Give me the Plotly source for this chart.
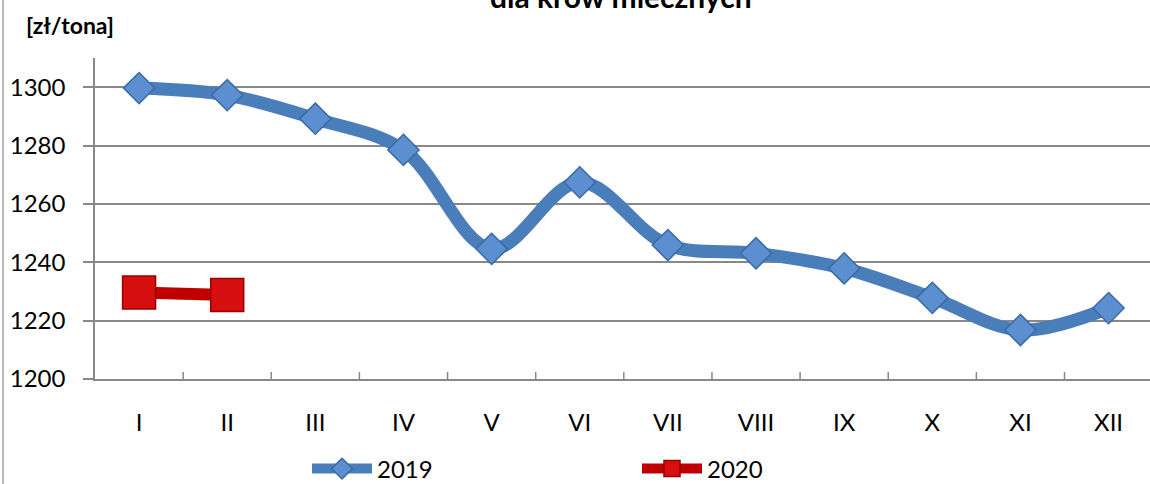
import plotly.graph_objects as go

months = ["I", "II", "III", "IV", "V", "VI", "VII", "VIII", "IX", "X", "XI", "XII"]
v2019 = [1299.7, 1297.3, 1289.2, 1278.5, 1244.6, 1267.4, 1245.9, 1243.1, 1237.9, 1227.8, 1216.8, 1224.3]
m2020 = ["I", "II"]
v2020 = [1229.6, 1228.8]
yticks = [1200, 1220, 1240, 1260, 1280, 1300]

FONT = "Lato"
fig = go.Figure()
fig.add_trace(go.Scatter(
    x=months, y=v2019, name="2019", mode="lines+markers",
    line=dict(color="#4A7EBB", width=13, shape="spline", smoothing=1.0),
    marker=dict(symbol="diamond", size=24, color="#5B8FD0",
                line=dict(color="#3A6AA5", width=1.5)),
))
fig.add_trace(go.Scatter(
    x=m2020, y=v2020, name="2020", mode="lines+markers",
    line=dict(color="#C00000", width=12),
    marker=dict(symbol="square", size=33, color="#D80F0F",
                line=dict(color="#9A0000", width=1.5)),
))

L, R, T, B = 95, 0, 58, 105
ph = 484 - T - B
pw = 1150 - L - R
def px(x):
    return (x - L) / pw
def py(y):
    return (484 - B - y) / ph

fig.update_layout(
    width=1150, height=484,
    margin=dict(l=L, r=R, t=T, b=B, autoexpand=False),
    paper_bgcolor="white", plot_bgcolor="white",
    font=dict(family=FONT, size=24, color="black"),
    showlegend=True,
    legend=dict(orientation="h", x=px(307), y=py(469), xanchor="left", yanchor="middle",
                entrywidth=255, entrywidthmode="pixels", itemwidth=60,
                font=dict(family=FONT, size=24), bgcolor="rgba(0,0,0,0)"),
    xaxis=dict(type="category", range=[-0.5, 11.47], showgrid=False,
               showline=True, linecolor="#888888", linewidth=1.5,
               ticks="", tickfont=dict(family=FONT, size=24), ticklabelstandoff=21,
               fixedrange=True),
    yaxis=dict(range=[1200, 1310], tickvals=yticks, showgrid=True,
               gridcolor="#888888", gridwidth=1.8, zeroline=False,
               showline=True, linecolor="#888888", linewidth=1.5,
               ticks="outside", ticklen=10, tickcolor="#888888", tickwidth=1.5,
               tickfont=dict(family=FONT, size=24), ticklabelstandoff=13),
)

# category boundary tick marks on the x axis (pointing up)
for i in range(1, 12):
    fig.add_shape(type="line", xref="x", yref="paper", x0=i - 0.5, x1=i - 0.5,
                  y0=0, y1=7 / ph, line=dict(color="#888888", width=1.5))

# left border of chart area
fig.add_shape(type="line", xref="paper", yref="paper", x0=px(3), x1=px(3),
              y0=py(484), y1=py(0), line=dict(color="#A0A0A0", width=1.5))

fig.add_annotation(text="<b>[zł/tona]</b>", xref="paper", yref="paper",
                   x=px(24), y=py(25), xanchor="left", yanchor="middle",
                   showarrow=False, font=dict(family=FONT, size=23))
fig.add_annotation(text="<b>dla krów mlecznych</b>", xref="paper", yref="paper",
                   x=px(621), y=py(16), xanchor="center", yanchor="bottom",
                   showarrow=False, font=dict(family=FONT, size=30))

fig.write_html("out.html", config={"displayModeBar": False},
               post_script="document.body.style.margin='0';document.body.style.overflow='hidden';")
